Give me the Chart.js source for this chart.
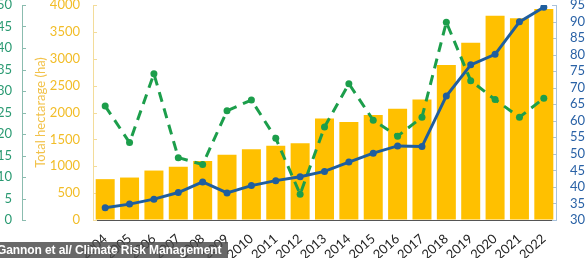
<!DOCTYPE html>
<html>
<head>
<meta charset="utf-8">
<script src="https://cdn.jsdelivr.net/npm/chart.js@4.4.0/dist/chart.umd.min.js"></script>
<style>
  html, body { margin:0; padding:0; background:#fff; overflow:hidden; }
  #wrap { position:absolute; left:-15px; top:-3px; width:600px; height:261px; }
  #credit {
    position:absolute; left:0; top:242px; width:228px; height:16px;
    background:rgba(72,72,72,0.82); color:#fff;
    font:bold 12px "Liberation Sans", Arial, sans-serif; line-height:16px;
    letter-spacing:-0.1px;
    white-space:nowrap; overflow:hidden; text-indent:-3px;
  }
</style>
</head>
<body>
<div id="wrap"><canvas id="myChart" width="600" height="261"></canvas></div>
<div id="credit">Gannon et al/ Climate Risk Management</div>
<script>
'use strict';
var years = ['2004','2005','2006','2007','2008','2009','2010','2011','2012','2013','2014','2015','2016','2017','2018','2019','2020','2021','2022'];
// yellow bars, left inner axis
var hectares = [760, 790, 920, 990, 1100, 1215, 1315, 1380, 1430, 1890, 1825, 1955, 2070, 2240, 2885, 3300, 3800, 3755, 3925];
// green dashed line, left outer axis
var greenSeries = [26.5, 18.0, 34.0, 14.5, 12.9, 25.4, 27.9, 19.0, 6.0, 21.6, 31.7, 23.2, 19.5, 23.9, 46.0, 32.4, 28.0, 23.9, 28.3];
// blue line, right axis
var blueSeries = [33.7, 34.8, 36.3, 38.3, 41.5, 38.2, 40.4, 41.9, 43.1, 44.7, 47.5, 50.2, 52.4, 52.2, 67.5, 76.9, 80.1, 89.9, 94.3];

var yellow = '#FFC000';
var yellowText = '#F2BD28';
var green = '#1C9E4B';
var greenText = '#2A9A72';
var blue = '#1F5E9E';
var blueText = '#2A62A6';
var font = 'Lato';

// plain numbers, no thousands comma
function plain(v){ return String(v); }

// gap between axis line and labels goes in an invisible tick (ticks.padding would push the plot down)
function gap(n){
    return { display: true, drawOnChartArea: false, drawTicks: true, tickLength: n, tickColor: 'rgba(0,0,0,0)' };
}

// little tick marks pointing into the plot, like the excel original
var innerTicks = {
    id: 'innerTicks',
    beforeDatasetsDraw: function(chart){
        var ctx = chart.ctx;
        var list = [['yG','#8bbcaf'],['yH','#f3dc9a'],['yB','#a9c2dc']];
        for (var k = 0; k < list.length; k++) {
            var s = chart.scales[list[k][0]];
            var left = s.position === 'left';
            var x = left ? s.right : s.left;
            ctx.save();
            ctx.strokeStyle = list[k][1];
            ctx.lineWidth = 1;
            for (var i = 0; i < s.ticks.length; i++) {
                var y = Math.round(s.getPixelForTick(i)) + 0.5;
                ctx.beginPath();
                ctx.moveTo(x, y);
                ctx.lineTo(left ? x + 4 : x - 4, y);
                ctx.stroke();
            }
            ctx.restore();
        }
    }
};

var ctx = document.getElementById('myChart').getContext('2d');
var chart = new Chart(ctx, {
    type: 'bar',
    data: {
        labels: years,
        datasets: [{
            type: 'line',
            data: greenSeries,
            yAxisID: 'yG',
            borderColor: green,
            backgroundColor: green,
            borderWidth: 3,
            borderDash: [10, 7],
            pointRadius: 3.5,
            pointBorderWidth: 0,
            tension: 0,
            order: 1
        }, {
            type: 'line',
            data: blueSeries,
            yAxisID: 'yB',
            borderColor: blue,
            backgroundColor: blue,
            borderWidth: 3,
            pointRadius: 3.5,
            pointBorderWidth: 0,
            tension: 0,
            order: 0
        }, {
            type: 'bar',
            data: hectares,
            yAxisID: 'yH',
            backgroundColor: yellow,
            barPercentage: 0.78,
            categoryPercentage: 1,
            order: 2
        }]
    },
    options: {
        responsive: false,
        animation: false,
        layout: { autoPadding: false, padding: { top: 8, left: 0, right: 0, bottom: 0 } },
        plugins: { legend: { display: false }, tooltip: { enabled: false } },
        scales: {
            x: {
                grid: { display: false, drawTicks: false },
                border: { color: '#555', width: 1 },
                ticks: { color: '#222', font: { family: font, size: 13 }, minRotation: 42, maxRotation: 42, autoSkip: false, padding: 11 },
                afterFit: function(s){ s.height = 38; }
            },
            yG: {
                position: 'left', weight: 2,
                min: 0, max: 50,
                grid: gap(10),
                border: { color: '#8bbcaf', width: 1 },
                ticks: { stepSize: 5, autoSkip: false, callback: plain, color: greenText, font: { family: font, size: 13 }, padding: 0 },
                afterFit: function(s){ s.width = 37; }
            },
            yH: {
                position: 'left', weight: 1,
                min: 0, max: 4000,
                grid: gap(13),
                border: { color: '#f3dc9a', width: 1 },
                ticks: { stepSize: 500, autoSkip: false, callback: plain, color: yellowText, font: { family: font, size: 13 }, padding: 0 },
                title: { display: true, text: 'Total hectarage (ha)', color: '#F2C24A', font: { family: font, size: 13 }, padding: { top: 11, bottom: 0 } },
                afterFit: function(s){ s.width = 71; }
            },
            yB: {
                position: 'right',
                min: 30, max: 95,
                grid: gap(14),
                border: { color: '#a9c2dc', width: 1 },
                ticks: { stepSize: 5, autoSkip: false, callback: plain, color: blueText, font: { family: font, size: 13 }, padding: 0 },
                afterFit: function(s){ s.width = 29; }
            }
        }
    },
    plugins: [innerTicks]
});
</script>
</body>
</html>
